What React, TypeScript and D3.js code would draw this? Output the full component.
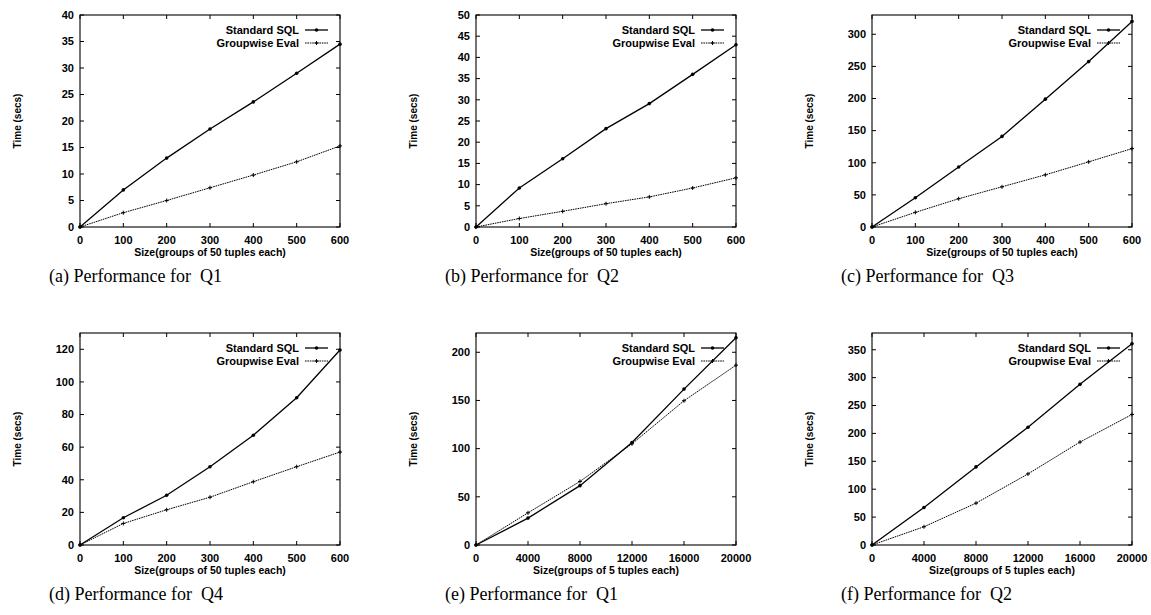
import * as d3 from 'd3';

// x values
const sizes50 = [0, 100, 200, 300, 400, 500, 600];
const sizes5 = [0, 4000, 8000, 12000, 16000, 20000];

// times (secs)
const q1StdSQL = [0, 7, 13, 18.5, 23.6, 29, 34.5];
const q1Groupwise = [0, 2.7, 5, 7.4, 9.8, 12.3, 15.3];
const q2StdSQL = [0, 9.2, 16.1, 23.2, 29.1, 36, 43];
const q2Groupwise = [0, 2, 3.7, 5.5, 7.1, 9.2, 11.6];
const q3StdSQL = [0, 45.5, 93.5, 141, 199, 257.5, 320];
const q3Groupwise = [0, 22.8, 44, 62.6, 81.2, 101.4, 122];
const q4StdSQL = [0, 16.7, 30.5, 48, 67.3, 90.3, 119.6];
const q4Groupwise = [0, 13.2, 21.6, 29.3, 38.8, 48, 57];
const q1bStdSQL = [0, 27.9, 61.6, 106.4, 161.8, 215];
const q1bGroupwise = [0, 33.4, 66, 105, 149.7, 186.6];
const q2bStdSQL = [0, 67.3, 140, 211, 288, 360.7];
const q2bGroupwise = [0, 32.7, 75, 127.4, 184.5, 234];

const ticks40 = d3.range(0, 41, 5);
const ticks50 = d3.range(0, 51, 5);
const ticks300 = d3.range(0, 301, 50);
const ticks120 = d3.range(0, 121, 20);
const ticks200 = d3.range(0, 201, 50);
const ticks350 = d3.range(0, 351, 50);
const xTicks600 = d3.range(0, 601, 100);
const xTicks20000 = d3.range(0, 20001, 4000);

const captions = [
  '(a) Performance for  Q1',
  '(b) Performance for  Q2',
  '(c) Performance for  Q3',
  '(d) Performance for  Q4',
  '(e) Performance for  Q1',
  '(f) Performance for  Q2',
];
const xTitle50 = 'Size(groups of 50 tuples each)';
const xTitle5 = 'Size(groups of 5 tuples each)';

const panels = [
  { xs: sizes50, std: q1StdSQL, gw: q1Groupwise, yMax: 40, yTicks: ticks40, xMax: 600, xTicks: xTicks600, xTitle: xTitle50 },
  { xs: sizes50, std: q2StdSQL, gw: q2Groupwise, yMax: 50, yTicks: ticks50, xMax: 600, xTicks: xTicks600, xTitle: xTitle50 },
  { xs: sizes50, std: q3StdSQL, gw: q3Groupwise, yMax: 330, yTicks: ticks300, xMax: 600, xTicks: xTicks600, xTitle: xTitle50 },
  { xs: sizes50, std: q4StdSQL, gw: q4Groupwise, yMax: 130, yTicks: ticks120, xMax: 600, xTicks: xTicks600, xTitle: xTitle50 },
  { xs: sizes5, std: q1bStdSQL, gw: q1bGroupwise, yMax: 220, yTicks: ticks200, xMax: 20000, xTicks: xTicks20000, xTitle: xTitle5 },
  { xs: sizes5, std: q2bStdSQL, gw: q2bGroupwise, yMax: 380, yTicks: ticks350, xMax: 20000, xTicks: xTicks20000, xTitle: xTitle5 },
];

const colLeft = [80, 476, 872];
const plotW = 260;
const rowTop = [15, 333];
const plotH = 212;
const sans = '"Liberation Sans", Arial, sans-serif';
const serif = '"Liberation Serif", "DejaVu Serif", serif';

function Panel({ p, idx }: { p: any; idx: number }) {
  const left = colLeft[idx % 3];
  const top = rowTop[Math.floor(idx / 3)];
  const x = d3.scaleLinear().domain([0, p.xMax]).range([left, left + plotW]);
  const y = d3.scaleLinear().domain([0, p.yMax]).range([top + plotH, top]);
  const line = d3.line<number>().x((_, i) => x(p.xs[i])).y((d) => y(d));
  const right = left + plotW;
  const bottom = top + plotH;
  const tk = 4;

  return (
    <g>
      {/* frame */}
      <rect x={left} y={top} width={plotW} height={plotH} fill="none" stroke="#000" strokeWidth={1.1} />
      {p.yTicks.map((t: number) => (
        <g key={'y' + t}>
          <line x1={left} x2={left + tk} y1={y(t)} y2={y(t)} stroke="#000" />
          <line x1={right} x2={right - tk} y1={y(t)} y2={y(t)} stroke="#000" />
          <text x={left - 6} y={y(t)} dy="0.35em" textAnchor="end" fontFamily={sans} fontWeight="bold" fontSize={11}>{t}</text>
        </g>
      ))}
      {p.xTicks.map((t: number) => (
        <g key={'x' + t}>
          <line x1={x(t)} x2={x(t)} y1={bottom} y2={bottom - tk} stroke="#000" />
          <line x1={x(t)} x2={x(t)} y1={top} y2={top + tk} stroke="#000" />
          <text x={x(t)} y={bottom + 13} dy="0.35em" textAnchor="middle" fontFamily={sans} fontWeight="bold" fontSize={11}>{t}</text>
        </g>
      ))}
      <text x={left + plotW / 2} y={bottom + 25} dy="0.35em" textAnchor="middle" fontFamily={sans} fontWeight="bold" fontSize={10.5}>{p.xTitle}</text>
      <text transform={`translate(${left - 63},${top + plotH / 2}) rotate(-90)`} dy="0.35em" textAnchor="middle" fontFamily={sans} fontWeight="bold" fontSize={10}>Time (secs)</text>

      {/* series */}
      <path d={line(p.gw) || ''} fill="none" stroke="#000" strokeWidth={1} strokeDasharray="1.6,0.8" />
      <path d={line(p.std) || ''} fill="none" stroke="#000" strokeWidth={1.3} />
      {p.std.map((v: number, i: number) => (
        <circle key={'s' + i} cx={x(p.xs[i])} cy={y(v)} r={1.8} fill="#000" />
      ))}
      {p.gw.map((v: number, i: number) => (
        <path key={'g' + i} d={`M${x(p.xs[i]) - 2},${y(v)}h4M${x(p.xs[i])},${y(v) - 2}v4`} stroke="#000" strokeWidth={1} />
      ))}

      {/* legend */}
      <text x={right - 41} y={top + 15} dy="0.35em" textAnchor="end" fontFamily={sans} fontWeight="bold" fontSize={11}>Standard SQL</text>
      <line x1={right - 35} x2={right - 12} y1={top + 15} y2={top + 15} stroke="#000" strokeWidth={1.3} />
      <circle cx={right - 23.5} cy={top + 15} r={1.8} fill="#000" />
      <text x={right - 41} y={top + 28} dy="0.35em" textAnchor="end" fontFamily={sans} fontWeight="bold" fontSize={11}>Groupwise Eval</text>
      <line x1={right - 35} x2={right - 12} y1={top + 28} y2={top + 28} stroke="#000" strokeWidth={1} strokeDasharray="1.6,0.8" />
      <path d={`M${right - 25.5},${top + 28}h4M${right - 23.5},${top + 26}v4`} stroke="#000" strokeWidth={1} />

      {/* caption */}
      <text x={left - 31} y={bottom + 55} fontFamily={serif} fontSize={18} style={{ whiteSpace: 'pre' }}>{captions[idx]}</text>
    </g>
  );
}

export default function App() {
  return (
    <svg width={1151} height={615} style={{ position: 'absolute', left: 0, top: 0, background: '#fff' }}>
      <rect width={1151} height={615} fill="#fff" />
      {panels.map((p, i) => (
        <Panel key={i} p={p} idx={i} />
      ))}
    </svg>
  );
}
